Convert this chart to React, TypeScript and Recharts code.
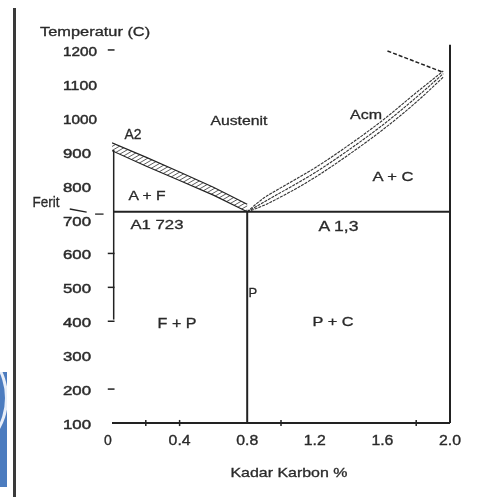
import React from 'react';
import {
  ComposedChart,
  XAxis,
  YAxis,
  Area,
  Line,
  ReferenceLine,
  ReferenceDot,
} from 'recharts';

// Axis ticks
const carbonTicks = [0, 0.4, 0.8, 1.2, 1.6, 2.0];
const carbonTickLabels = ['0', '0.4', '0.8', '1.2', '1.6', '2.0'];
const carbonMinorTicks = [0.2, 0.4, 1.0, 1.8];
const tempTicks = [100, 200, 300, 400, 500, 600, 700, 800, 900, 1000, 1100, 1200];
const tempMarkTicks = [1200, 600, 500, 400, 200];

// A3 boundary (hatched band)
const a3Carbon = [0, 0.2, 0.4, 0.6, 0.8];
const a3Upper = [926, 884, 840, 795, 745];
const a3Lower = [903, 858, 815, 772, 723];

// Acm boundary (three dotted lines)
const acmCarbon = [0.8, 0.9, 1.0, 1.2, 1.4, 1.6, 1.8, 1.96];
const acmUpper = [723, 764, 794, 852, 919, 992, 1074, 1138];
const acmMid = [723, 752, 780, 838, 905, 978, 1060, 1130];
const acmLower = [723, 742, 767, 824, 891, 964, 1046, 1120];

// dashed line at top right
const topCarbon = [1.63, 1.96];
const topTemp = [1197, 1134];

// Ferrite line near 0 %
const feritCarbon = [0.01, 0.01];
const feritTemp = [905, 405];

// Fixed lines
const eutectoidTemp = 723;
const eutectoidCarbon = 0.8;
const maxCarbon = 2.0;
const rightLineTop = 1215;
const axisMinTemp = 100;

// Labels (text, carbon, temperature)
const labelTexts = ['A2', 'Austenit', 'Acm', 'A + F', 'Ferit', 'A1 723', 'A 1,3', 'A + C', 'P', 'F + P', 'P + C', 'Temperatur (C)', 'Kadar Karbon %'];
const labelCarbon = [0.124, 0.751, 1.503, 0.207, -0.39, 0.266, 1.34, 1.663, 0.834, 0.385, 1.308, -0.10, 1.047];
const labelTemp = [952, 991, 1009, 770, 752, 684, 681, 826, 486, 395, 398, 1253, -45];
const labelLen = [17, 57, 32, 37, 27, 53, 40, 41, 0, 39, 41, 110, 117];
const labelSize = [14, 13, 13, 13, 14, 13, 14, 13, 13, 14, 13, 12, 13];

const a3Rows = a3Carbon.map((c, i) => ({ c, band: [a3Lower[i], a3Upper[i]] }));
const acmRows = acmCarbon.map((c, i) => ({ c, upper: acmUpper[i], mid: acmMid[i], lower: acmLower[i] }));
const topRows = topCarbon.map((c, i) => ({ c, t: topTemp[i] }));
const feritRows = feritCarbon.map((c, i) => ({ c, t: feritTemp[i] }));

const FONT = 'Liberation Sans, Arial, sans-serif';
const INK = '#222';
const TEXT = '#2a2a2a';

const XTick = (props: any) => {
  const { x, y, payload } = props;
  const idx = carbonTicks.indexOf(payload.value);
  const label = idx >= 0 ? carbonTickLabels[idx] : String(payload.value);
  return (
    <text
      x={idx === 0 ? x - 4 : x}
      y={y + 14}
      textAnchor="middle"
      fontFamily={FONT}
      fontSize={14}
      fill={TEXT}
      stroke={TEXT}
      strokeWidth={0.35}
      textLength={label.length > 1 ? 22 : undefined}
      lengthAdjust="spacingAndGlyphs"
    >
      {label}
    </text>
  );
};

const YTick = (props: any) => {
  const { x, y, payload } = props;
  const s = String(payload.value);
  return (
    <text
      x={x}
      y={y + 6}
      textAnchor="start"
      fontFamily={FONT}
      fontSize={13.5}
      fill={TEXT}
      stroke={TEXT}
      strokeWidth={0.45}
      textLength={s.length > 3 ? 34 : 28}
      lengthAdjust="spacingAndGlyphs"
    >
      {s}
    </text>
  );
};

const makeLabel = (i: number) => (props: any) => {
  const { cx, cy } = props;
  return (
    <text
      x={cx}
      y={cy}
      textAnchor="middle"
      dominantBaseline="central"
      fontFamily={FONT}
      fontSize={labelSize[i]}
      fill={TEXT}
      stroke={TEXT}
      strokeWidth={0.3}
      textLength={labelLen[i] > 0 ? labelLen[i] : undefined}
      lengthAdjust="spacingAndGlyphs"
    >
      {labelTexts[i]}
    </text>
  );
};

export default function App() {
  return (
    <div>
      <div
        style={{
          position: 'fixed',
          left: 13,
          top: 8,
          width: 2.5,
          height: 489,
          background: '#3a3a3a',
        }}
      />
      <div
        style={{
          position: 'fixed',
          left: 0,
          top: 372,
          width: 7,
          height: 115,
          background: '#4c7cbf',
          overflow: 'hidden',
        }}
      >
        <div
          style={{
            position: 'absolute',
            left: -70,
            top: -25,
            width: 72,
            height: 96,
            borderRadius: '50%',
            border: '3px solid #e8eef8',
          }}
        />
      </div>
      <ComposedChart
        width={470}
        height={482}
        margin={{ top: 25, right: 28, bottom: 7, left: 44 }}
      >
        <defs>
          <pattern
            id="a3hatch"
            patternUnits="userSpaceOnUse"
            width="3.5"
            height="3.5"
            patternTransform="rotate(60)"
          >
            <line x1="0" y1="0" x2="0" y2="3.5" stroke="#333" strokeWidth="1.4" />
          </pattern>
        </defs>
        <XAxis
          type="number"
          dataKey="c"
          domain={[0, 2]}
          ticks={carbonTicks}
          allowDataOverflow
          height={60}
          tickLine={false}
          tick={<XTick />}
          axisLine={{ stroke: INK, strokeWidth: 2 }}
        />
        <YAxis
          type="number"
          domain={[100, 1250]}
          ticks={tempTicks}
          allowDataOverflow
          width={60}
          axisLine={false}
          tickLine={false}
          tickMargin={43}
          tick={<YTick />}
        />

        <Area
          data={a3Rows}
          dataKey="band"
          type="linear"
          stroke={INK}
          strokeWidth={1.2}
          fill="url(#a3hatch)"
          fillOpacity={1}
          isAnimationActive={false}
          dot={false}
          activeDot={false}
        />

        <Line data={acmRows} dataKey="upper" type="monotone" stroke="#333" strokeWidth={1.1} strokeDasharray="3 1" dot={false} activeDot={false} isAnimationActive={false} />
        <Line data={acmRows} dataKey="mid" type="monotone" stroke="#333" strokeWidth={1.1} strokeDasharray="3 1" dot={false} activeDot={false} isAnimationActive={false} />
        <Line data={acmRows} dataKey="lower" type="monotone" stroke="#333" strokeWidth={1.1} strokeDasharray="3 1" dot={false} activeDot={false} isAnimationActive={false} />

        <Line data={topRows} dataKey="t" type="linear" stroke={INK} strokeWidth={1.5} strokeDasharray="4 2" dot={false} activeDot={false} isAnimationActive={false} />
        <Line data={feritRows} dataKey="t" type="linear" stroke={INK} strokeWidth={1.5} dot={false} activeDot={false} isAnimationActive={false} />

        <ReferenceLine
          segment={[{ x: 0.01, y: eutectoidTemp }, { x: maxCarbon, y: eutectoidTemp }]}
          stroke={INK}
          strokeWidth={2}
        />
        <ReferenceLine
          segment={[{ x: eutectoidCarbon, y: axisMinTemp }, { x: eutectoidCarbon, y: eutectoidTemp }]}
          stroke={INK}
          strokeWidth={2}
        />
        <ReferenceLine
          segment={[{ x: maxCarbon, y: axisMinTemp }, { x: maxCarbon, y: rightLineTop }]}
          stroke={INK}
          strokeWidth={2}
        />
        <ReferenceLine
          segment={[{ x: -0.25, y: 731 }, { x: -0.15, y: 722 }]}
          stroke={INK}
          strokeWidth={1.3}
          ifOverflow="visible"
        />
        <ReferenceLine
          segment={[{ x: -0.1, y: 716 }, { x: -0.05, y: 716 }]}
          stroke={INK}
          strokeWidth={1.3}
          ifOverflow="visible"
        />

        {carbonMinorTicks.map((c) => (
          <ReferenceLine
            key={'xt' + c}
            segment={[{ x: c, y: 91 }, { x: c, y: 109 }]}
            stroke={INK}
            strokeWidth={1.5}
            ifOverflow="visible"
          />
        ))}
        {tempMarkTicks.map((t) => (
          <ReferenceLine
            key={'yt' + t}
            segment={[{ x: -0.025, y: t }, { x: 0.015, y: t }]}
            stroke={INK}
            strokeWidth={1.5}
            ifOverflow="visible"
          />
        ))}

        {labelTexts.map((_, i) => (
          <ReferenceDot
            key={'lb' + i}
            x={labelCarbon[i]}
            y={labelTemp[i]}
            r={0}
            ifOverflow="visible"
            shape={makeLabel(i)}
          />
        ))}
      </ComposedChart>
    </div>
  );
}
